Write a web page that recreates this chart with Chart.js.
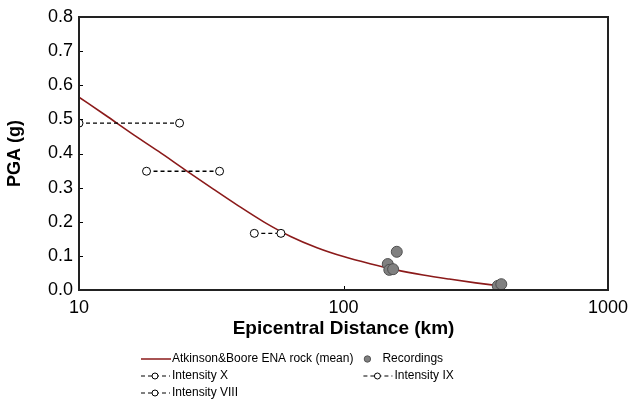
<!DOCTYPE html>
<html>
<head>
<meta charset="utf-8">
<script src="https://cdn.jsdelivr.net/npm/chart.js@4"></script>
<style>
  body { margin: 0; background: #fff; }
  #wrap { width: 636px; height: 419px; }
</style>
</head>
<body>
<div id="wrap"><canvas id="chart"></canvas></div>
<script>
// Atkinson & Boore mean curve (distance km, PGA g)
const curveDist = [10, 12.6, 15.8, 20, 25.1, 31.6, 39.8, 50.1, 63.1, 79.4, 100, 126, 158, 200, 251, 316, 380];
const curvePga = [0.565, 0.512, 0.459, 0.406, 0.353, 0.300, 0.248, 0.199, 0.157, 0.124, 0.098, 0.077, 0.059, 0.044, 0.032, 0.021, 0.013];

// recordings
const recDist = [159, 147, 149, 154, 383, 395];
const recPga = [0.112, 0.076, 0.059, 0.061, 0.012, 0.017];

// intensity ranges
const intXDist = [10, 24];
const intXPga = [0.489, 0.489];
const intIXDist = [18, 34];
const intIXPga = [0.348, 0.348];
const intVIIIDist = [46, 58];
const intVIIIPga = [0.166, 0.166];

const xTicks = [10, 100, 1000];

const pts = (xs, ys) => xs.map((x, i) => ({ x: x, y: ys[i] }));

const intensityStyle = {
    type: 'line',
    borderColor: '#000',
    borderWidth: 1.3,
    borderDash: [4, 3],
    pointRadius: 4,
    pointBackgroundColor: '#fff',
    pointBorderColor: '#000',
    pointBorderWidth: 1,
    showLine: true
};

// draws inward ticks, the box and the legend
const extras = {
    id: 'extras',
    afterDraw(chart) {
        const ctx = chart.ctx;
        const a = chart.chartArea;
        const xs = chart.scales.x, ys = chart.scales.y;
        ctx.save();
        ctx.strokeStyle = '#000';
        ctx.lineWidth = 1;
        ctx.beginPath();
        for (let v = 0.1; v < 0.8; v += 0.1) {
            const y = Math.round(ys.getPixelForValue(v)) + 0.5;
            ctx.moveTo(a.left, y); ctx.lineTo(a.left + 4, y);
        }
        const xm = Math.round(xs.getPixelForValue(100)) + 0.5;
        ctx.moveTo(xm, a.bottom); ctx.lineTo(xm, a.bottom - 4);
        ctx.stroke();
        ctx.lineWidth = 2;
        ctx.strokeStyle = '#222';
        ctx.strokeRect(a.left, a.top, a.right - a.left, a.bottom - a.top);

        // legend
        ctx.font = '12px "Liberation Sans", Arial, sans-serif';
        ctx.fillStyle = '#000';
        ctx.textBaseline = 'middle';
        const r1 = 359, r2 = 376, r3 = 393;
        ctx.strokeStyle = '#8b1a1a';
        ctx.lineWidth = 1.5;
        ctx.beginPath(); ctx.moveTo(141, r1); ctx.lineTo(171, r1); ctx.stroke();
        const t1 = 'Atkinson&Boore ENA rock (mean)';
        ctx.fillText(t1, 172, r1);
        const dx = 172 + ctx.measureText(t1).width + 4;
        ctx.fillStyle = '#808080';
        ctx.strokeStyle = '#555';
        ctx.lineWidth = 1;
        ctx.beginPath(); ctx.arc(dx + 10, r1, 3.2, 0, Math.PI * 2); ctx.fill(); ctx.stroke();
        ctx.fillStyle = '#000';
        ctx.fillText('Recordings', dx + 25, r1);
        const sample = (x0, y, label) => {
            ctx.strokeStyle = '#000';
            ctx.lineWidth = 1;
            ctx.setLineDash([4, 3]);
            ctx.beginPath(); ctx.moveTo(x0, y); ctx.lineTo(x0 + 29, y); ctx.stroke();
            ctx.setLineDash([]);
            ctx.fillStyle = '#fff';
            ctx.beginPath(); ctx.arc(x0 + 14, y, 3, 0, Math.PI * 2); ctx.fill(); ctx.stroke();
            ctx.fillStyle = '#000';
            ctx.fillText(label, x0 + 31, y);
        };
        sample(141, r2, 'Intensity X');
        sample(dx + 6, r2, 'Intensity IX');
        sample(141, r3, 'Intensity VIII');
        ctx.restore();
    }
};

const chart = new Chart(document.getElementById('chart'), {
    type: 'line',
    data: {
        datasets: [
            Object.assign({}, intensityStyle, { label: 'Intensity X', data: pts(intXDist, intXPga) }),
            Object.assign({}, intensityStyle, { label: 'Intensity IX', data: pts(intIXDist, intIXPga) }),
            Object.assign({}, intensityStyle, { label: 'Intensity VIII', data: pts(intVIIIDist, intVIIIPga) }),
            {
                type: 'scatter',
                label: 'Recordings',
                data: pts(recDist, recPga),
                pointRadius: 5.5,
                pointBackgroundColor: '#808080',
                pointBorderColor: '#505050',
                pointBorderWidth: 1
            },
            {
                type: 'line',
                label: 'Atkinson&Boore ENA rock (mean)',
                data: pts(curveDist, curvePga),
                borderColor: '#8b1a1a',
                borderWidth: 1.6,
                pointRadius: 0,
                cubicInterpolationMode: 'monotone',
                order: 10
            }
        ]
    },
    options: {
        responsive: true,
        maintainAspectRatio: false,
        animation: false,
        layout: { padding: { top: 17, right: 28, left: 0, bottom: 75 } },
        plugins: { legend: { display: false }, tooltip: { enabled: false } },
        scales: {
            x: {
                type: 'logarithmic',
                min: 10,
                max: 1000,
                afterBuildTicks: (s) => { s.ticks = xTicks.map(v => ({ value: v })); },
                afterFit: (s) => { s.height = 54; },
                grid: { display: false, drawTicks: false },
                border: { display: false },
                ticks: {
                    padding: 7,
                    maxRotation: 0,
                    color: '#000',
                    font: { family: '"Liberation Sans", Arial', size: 18 },
                    callback: (v) => String(v)
                },
                title: {
                    display: true,
                    text: 'Epicentral Distance (km)',
                    color: '#000',
                    padding: { top: 0 },
                    font: { family: '"Liberation Sans", Arial', size: 19, weight: 'bold' }
                }
            },
            y: {
                min: 0,
                max: 0.8,
                afterFit: (s) => { s.width = 79; },
                grid: { display: false, drawTicks: false },
                border: { display: false },
                ticks: {
                    stepSize: 0.1,
                    padding: 6,
                    color: '#000',
                    font: { family: '"Liberation Sans", Arial', size: 18 },
                    callback: (v) => v.toFixed(1)
                },
                title: {
                    display: true,
                    text: 'PGA (g)',
                    color: '#000',
                    padding: { bottom: 0 },
                    font: { family: '"Liberation Sans", Arial', size: 18, weight: 'bold' }
                }
            }
        }
    },
    plugins: [extras]
});
</script>
</body>
</html>
